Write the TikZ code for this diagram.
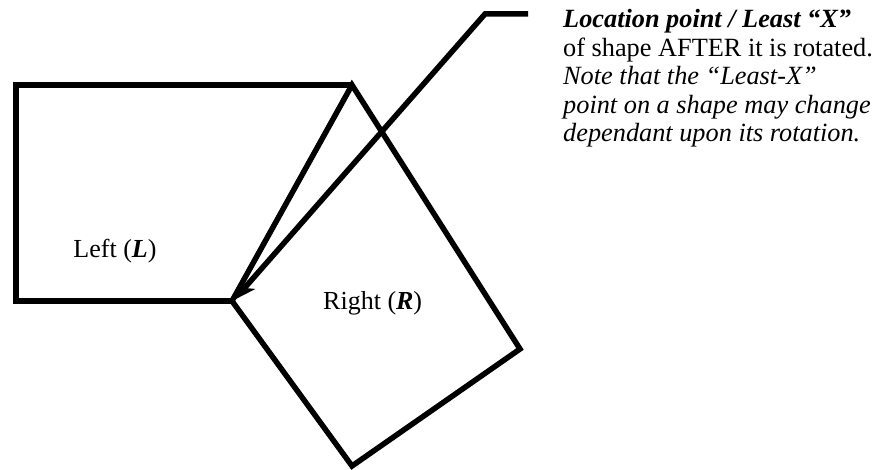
\documentclass[tikz,border=0pt]{standalone}
\usepackage{fontspec}
\setmainfont{Liberation Serif}
\usetikzlibrary{arrows.meta}
\begin{document}
\begin{tikzpicture}[x=1pt,y=-1pt,
  edge/.style={line width=5.5pt,line join=miter,line cap=butt},
  lbl/.style={inner sep=0pt,font=\fontsize{26}{29}\selectfont},
  note/.style={inner sep=0pt,align=left,font=\fontsize{26.3}{29}\selectfont}]
\useasboundingbox (0,0) rectangle (884,470);
\coordinate (A) at (16,85);
\coordinate (B) at (352,85);
\coordinate (C) at (16,301);
\coordinate (D) at (232,301);
\coordinate (E) at (520,349);
\coordinate (F) at (352,466);
\coordinate (G) at (485,14);
\coordinate (H) at (528,14);
\coordinate (T) at (234,300);
\draw[edge] (B) -- (A) -- (C) -- (D);
\draw[edge] (D) -- (B) -- (E) -- (F) -- cycle;
\draw[edge,-{Stealth[length=22pt,width=17pt,inset=6pt]}] (H) -- (G) -- (T);
\node[lbl,anchor=base] (left) at (115,258) {Left (\textbf{\textit{L}})};
\node[lbl,anchor=base west] (right) at (323,310) {Right (\textbf{\textit{R}})};
\node[note,anchor=base west] (txt) at (563,28) {\textbf{\textit{Location point / Least “X”}}};
\node[note,anchor=base west] (t2) at (563,56.5) {of shape AFTER it is rotated.};
\node[note,anchor=base west] (t3) at (563,85) {\textit{Note that the “Least-X”}};
\node[note,anchor=base west] (t4) at (563,113.5) {\textit{point on a shape may change}};
\node[note,anchor=base west] (t5) at (563,142) {\textit{dependant upon its rotation.}};
\end{tikzpicture}
\end{document}
